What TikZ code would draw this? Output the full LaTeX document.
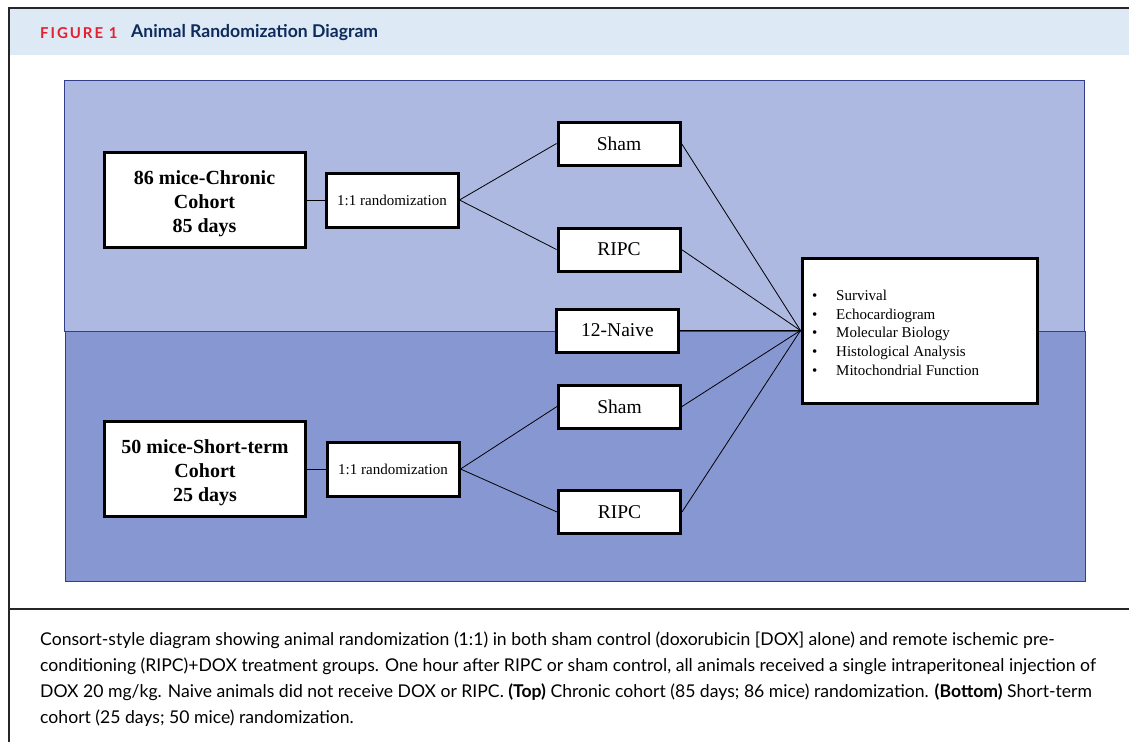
\documentclass[tikz,border=0pt]{standalone}
\usepackage{fontspec}
\setmainfont{Liberation Serif}
\newfontfamily\capfont{Lato}
\newfontfamily\headfont[LetterSpace=13]{Lato}
\newfontfamily\titlefont{Lato}
\definecolor{headbg}{RGB}{221,233,245}
\definecolor{toppanel}{RGB}{173,185,224}
\definecolor{botpanel}{RGB}{135,151,209}
\definecolor{panelline}{RGB}{50,62,140}
\definecolor{figred}{RGB}{228,32,47}
\definecolor{navy}{RGB}{13,43,91}
\tikzset{
  cohort/.style={draw=black, line width=3pt, fill=white, minimum width=201pt, minimum height=95pt, align=center, font=\fontsize{20}{24}\selectfont\bfseries, inner sep=0pt},
  randbox/.style={draw=black, line width=3pt, fill=white, minimum width=132pt, minimum height=54pt, font=\fontsize{15}{18}\selectfont, inner sep=0pt},
  groupbox/.style={draw=black, line width=3pt, fill=white, minimum width=122pt, minimum height=43pt, font=\fontsize{19.5}{22}\selectfont, inner sep=0pt},
  outbox/.style={draw=black, line width=3pt, fill=white, minimum width=235pt, minimum height=145pt, inner sep=0pt},
  conn/.style={draw=black, line width=0.8pt},
}
\begin{document}
\begin{tikzpicture}[x=1pt,y=-1pt]
\useasboundingbox (0,0) rectangle (1129,742);
\fill[white] (0,0) rectangle (1129,742);
% header band
\fill[headbg] (9,9) rectangle (1129,55);
\draw[line width=2pt, black!85] (9,742) -- (9,8) -- (1129,8);
\node[anchor=west, inner sep=0pt, text=figred, font=\fontsize{15}{17}\selectfont\headfont\bfseries] (figlab) at (40,33.5) {FIGURE 1};
\node[anchor=west, inner sep=0pt, text=navy, font=\fontsize{17.6}{20}\selectfont\titlefont\bfseries] (title) at (131,33) {Animal Randomization Diagram};
% panels
\draw[panelline, line width=1pt, fill=toppanel] (64,80) rectangle (1084,331);
\draw[panelline, line width=1pt, fill=botpanel] (65,331) rectangle (1085,581);
% caption divider
\draw[line width=1.5pt, black!85] (9,609) -- (1129,609);
% nodes
\node[cohort] (chron) at (204.5,200) {\raisebox{-3.5pt}[\height][\depth]{\begin{tabular}{@{}c@{}}86 mice-Chronic\\Cohort\\85 days\end{tabular}}};
\node[randbox] (rand1) at (392,200) {1:1 randomization};
\node[groupbox] (sham1) at (619,143.5) {Sham};
\node[groupbox] (ripc1) at (619,249.5) {RIPC};
\node[groupbox] (naive) at (617.5,330.5) {12-Naive};
\node[groupbox] (sham2) at (619.5,406.5) {Sham};
\node[groupbox] (ripc2) at (619.5,512) {RIPC};
\node[cohort] (short) at (205,469) {\raisebox{-3.5pt}[\height][\depth]{\begin{tabular}{@{}c@{}}50 mice-Short-term\\Cohort\\25 days\end{tabular}}};
\node[randbox] (rand2) at (393,469) {1:1 randomization};
\node[outbox] (out) at (919.5,330.5) {};
\node[anchor=north west, inner sep=0pt, align=left, font=\fontsize{15}{18.6}\selectfont] (outtext) at (812,290)
  {\makebox[24pt][l]{\textbullet}Survival\\
   \makebox[24pt][l]{\textbullet}Echocardiogram\\
   \makebox[24pt][l]{\textbullet}Molecular Biology\\
   \makebox[24pt][l]{\textbullet}Histological Analysis\\
   \makebox[24pt][l]{\textbullet}Mitochondrial Function};
% connectors
\draw[conn] (chron.east) -- (rand1.west);
\draw[conn] (rand1.east) -- (sham1.west);
\draw[conn] (rand1.east) -- (ripc1.west);
\draw[conn] (short.east) -- (rand2.west);
\draw[conn] (rand2.east) -- (sham2.west);
\draw[conn] (rand2.east) -- (ripc2.west);
\draw[conn] (sham1.east) -- (out.west);
\draw[conn] (ripc1.east) -- (out.west);
\draw[conn] (naive.east) -- (out.west);
\draw[conn] (sham2.east) -- (out.west);
\draw[conn] (ripc2.east) -- (out.west);
% caption
\node[anchor=north west, inner sep=0pt, align=left, font=\fontsize{17.6}{26}\selectfont\capfont] (caption) at (40,632)
{Consort-style diagram showing animal randomization (1:1) in both sham control (doxorubicin [DOX] alone) and remote ischemic pre-\\
conditioning (RIPC)+DOX treatment groups. One hour after RIPC or sham control, all animals received a single intraperitoneal injection of\\
DOX 20 mg/kg. Naive animals did not receive DOX or RIPC. \textbf{(Top)} Chronic cohort (85 days; 86 mice) randomization. \textbf{(Bottom)} Short-term\\
cohort (25 days; 50 mice) randomization.};
\end{tikzpicture}
\end{document}
